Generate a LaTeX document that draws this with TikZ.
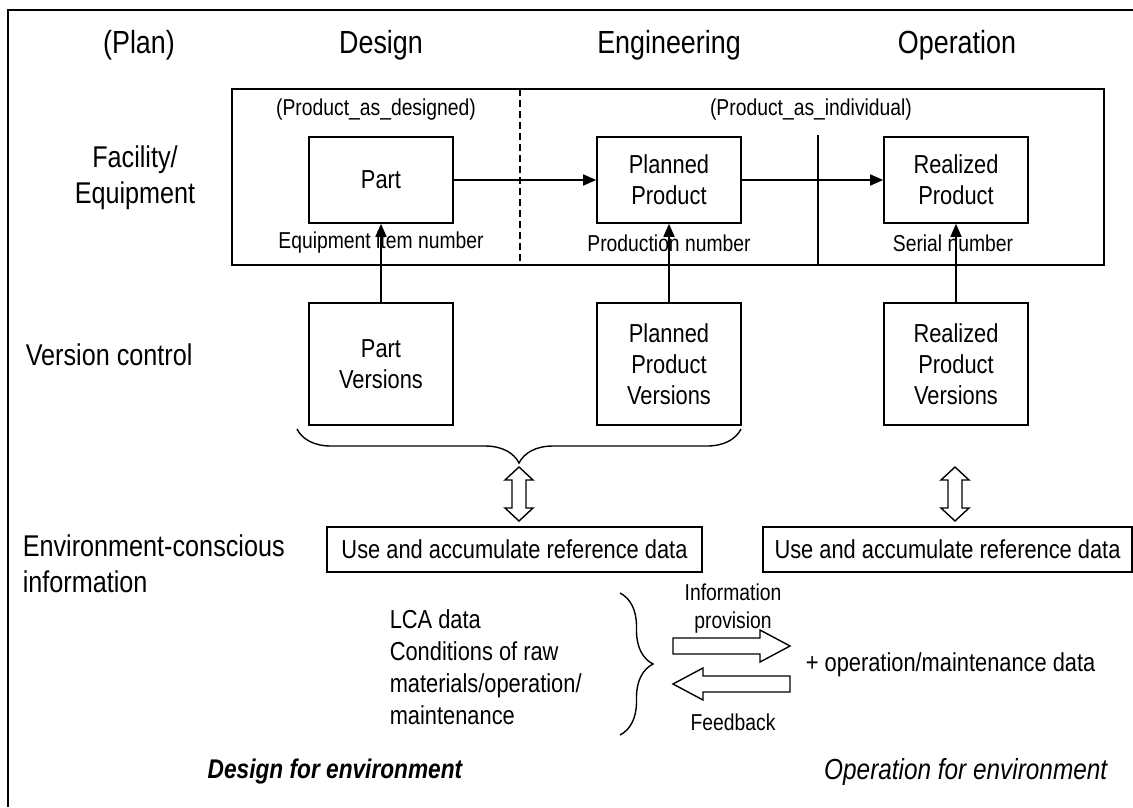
\documentclass[tikz,border=0pt]{standalone}
\usepackage{fontspec}
\setmainfont{Liberation Sans}[FakeStretch=0.84]
\usetikzlibrary{arrows.meta,decorations.pathreplacing}
\begin{document}
\begin{tikzpicture}[x=1pt,y=-1pt,line width=1.6pt,
  lbl/.style={inner sep=0pt,font=\fontsize{32}{37}\selectfont},
  rowlbl/.style={inner sep=0pt,font=\fontsize{30}{36}\selectfont},
  small/.style={inner sep=0pt,font=\fontsize{23}{28}\selectfont},
  mid/.style={inner sep=0pt,font=\fontsize{26}{32}\selectfont},
  prodbox/.style={draw,line width=1.6pt,minimum width=144pt,minimum height=86pt,align=center,inner sep=0pt,font=\fontsize{26}{31}\selectfont},
  verbox/.style={prodbox,minimum height=122pt},
  refbox/.style={draw,line width=1.6pt,minimum height=45pt,inner sep=0pt,font=\fontsize{26}{31}\selectfont},
  arr/.style={-{Triangle[length=13pt,width=11pt]},line width=1.6pt},
  hollow/.style={draw,line width=1.4pt,fill=white,line join=miter},
  bracepath/.style={decorate,line width=1.4pt}
]
\useasboundingbox (0,0) rectangle (1133,807);
% outer frame (only top and left edges visible)
\draw[line width=2pt] (8,807) -- (8,10) -- (1133,10);

% column headings
\node[lbl] (plan) at (139,45) {(Plan)};
\node[lbl] (design) at (381,45) {Design};
\node[lbl] (eng) at (669,45) {Engineering};
\node[lbl] (oper) at (957,45) {Operation};

% row headings
\node[rowlbl,align=center] (fac) at (135,178) {Facility/\\Equipment};
\node[rowlbl,anchor=west] (verc) at (25,355) {Version control};
\node[rowlbl,anchor=west,align=left] (env) at (22,564) {Environment-conscious\\information};

% facility / equipment area
\draw (232,89) rectangle (1104,265);
\draw[dash pattern=on 7pt off 4pt] (520,89) -- (520,265);
\draw (818,135) -- (818,265);
\node[small] (asdes) at (376,110) {(Product\_as\_designed)};
\node[small] (asind) at (811,110) {(Product\_as\_individual)};

\node[prodbox] (part) at (381,180) {Part};
\node[prodbox] (planned) at (669,180) {Planned\\Product};
\node[prodbox] (realized) at (956,180) {Realized\\Product};

\node[small] (eqno) at (381,243) {Equipment item number};
\node[small] (prodno) at (669,243) {Production number};
\node[small] (serno) at (953,243) {Serial number};

\draw[arr] (part) -- (planned);
\draw[arr] (planned) -- (realized);

% version control
\node[verbox] (partv) at (381,364) {Part\\Versions};
\node[verbox] (plannedv) at (669,364) {Planned\\Product\\Versions};
\node[verbox] (realizedv) at (956,364) {Realized\\Product\\Versions};

\draw[arr] (partv) -- (part);
\draw[arr] (plannedv) -- (planned);
\draw[arr] (realizedv) -- (realized);

% brace under design/engineering versions
\draw[bracepath,decoration={brace,amplitude=34pt}] (741,429) -- (297,429);

% hollow double arrows
\draw[hollow] (519,467) -- (533,480) -- (526,480) -- (526,508) -- (533,508) -- (519,521)
  -- (505,508) -- (512,508) -- (512,480) -- (505,480) -- cycle;
\draw[hollow] (955,467) -- (969,480) -- (962,480) -- (962,508) -- (969,508) -- (955,521)
  -- (941,508) -- (948,508) -- (948,480) -- (941,480) -- cycle;

% reference data boxes
\node[refbox,minimum width=375pt] (ref1) at (514.5,549.5) {Use and accumulate reference data};
\node[refbox,minimum width=369pt] (ref2) at (947.5,549.5) {Use and accumulate reference data};

% environment information
\node[mid,anchor=west,align=left] (lca) at (389,667) {LCA data\\Conditions of raw\\materials/operation/\\maintenance};
\draw[bracepath,decoration={brace,amplitude=33pt}] (620,593) -- (620,735);

\node[small,align=center] (info) at (733,609) {Information\\provision};
\draw[hollow] (673,638) -- (760,638) -- (760,630) -- (790,646) -- (760,662) -- (760,654) -- (673,654) -- cycle;
\draw[hollow] (790,676) -- (703,676) -- (703,668) -- (673,684) -- (703,700) -- (703,692) -- (790,692) -- cycle;
\node[small] (fb) at (733,722) {Feedback};
\node[mid,anchor=west] (opdata) at (805,665) {+ operation/maintenance data};

% bottom titles
\node[inner sep=0pt,font=\fontsize{27}{32}\selectfont\bfseries\itshape] (dfe) at (335,772) {Design for environment};
\node[inner sep=0pt,anchor=east,font=\fontsize{29}{34}\selectfont\itshape] (ofe) at (1108,772) {Operation for environment};
\end{tikzpicture}
\end{document}
